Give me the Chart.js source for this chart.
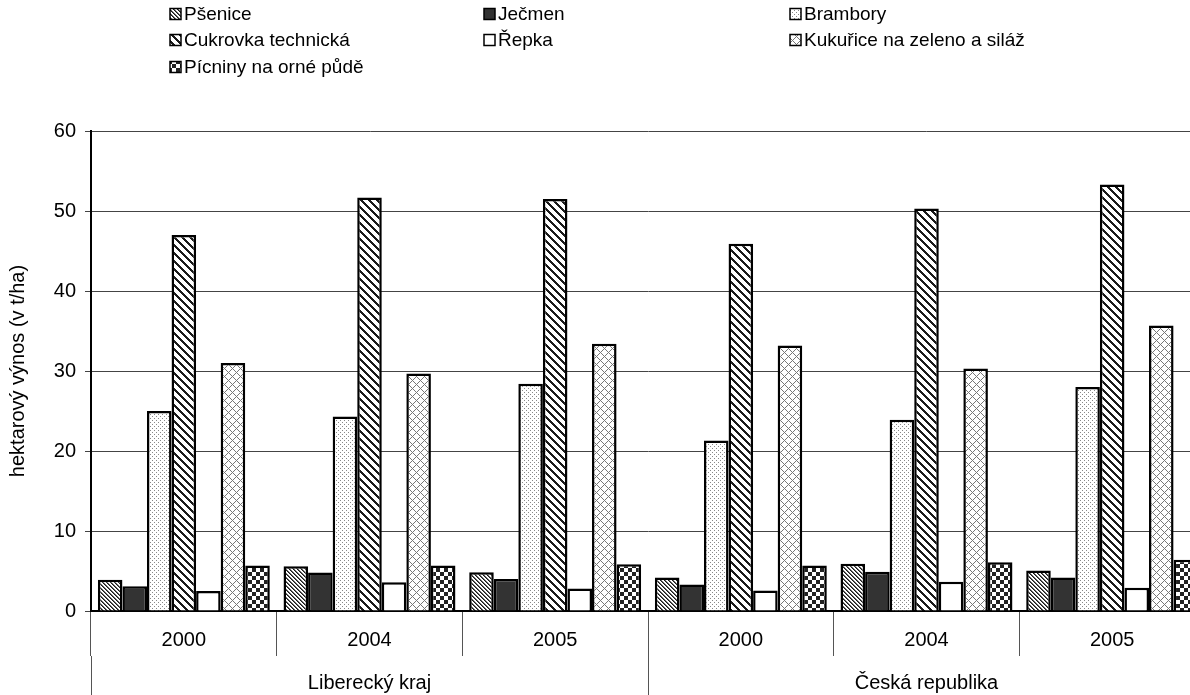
<!DOCTYPE html>
<html>
<head>
<meta charset="utf-8">
<script src="https://cdn.jsdelivr.net/npm/chart.js@4"></script>
<style>
  html, body { margin: 0; padding: 0; background: #fff; }
  #wrap { width: 1190px; height: 695px; overflow: hidden; }
</style>
</head>
<body>
<div id="wrap"><canvas id="yieldChart" width="1205" height="695"></canvas></div>
<script>
// Data
const years = ['2000', '2004', '2005', '2000', '2004', '2005'];
const regions = ['Liberecký kraj', 'Česká republika'];
const seriesNames = ['Pšenice', 'Ječmen', 'Brambory', 'Cukrovka technická', 'Řepka', 'Kukuřice na zeleno a siláž', 'Pícniny na orné půdě'];
const psenice = [3.9, 5.6, 4.85, 4.2, 5.9, 5.05];
const jecmen = [3.1, 4.8, 4.0, 3.3, 4.9, 4.2];
const brambory = [25.0, 24.3, 28.4, 21.3, 23.9, 28.0];
const cukrovka = [47.0, 51.7, 51.5, 45.9, 50.3, 53.3];
const repka = [2.5, 3.6, 2.8, 2.55, 3.65, 2.9];
const kukurice = [31.0, 29.7, 33.4, 33.2, 30.3, 35.7];
const picniny = [5.7, 5.7, 5.85, 5.7, 6.1, 6.4];
const yTicks = [0, 10, 20, 30, 40, 50, 60];

const FONT = '"Liberation Sans", Arial, sans-serif';
const FS = 19;      // legend
const FS_AXIS = 20; // axis labels and title

// Build a fill pattern from a small pixel tile
function makePattern(size, paint) {
  const c = document.createElement('canvas');
  c.width = size; c.height = size;
  const g = c.getContext('2d');
  g.fillStyle = '#fff';
  g.fillRect(0, 0, size, size);
  for (let y = 0; y < size; y++) {
    for (let x = 0; x < size; x++) {
      const col = paint(x, y);
      if (col) { g.fillStyle = col; g.fillRect(x, y, 1, 1); }
    }
  }
  return g.createPattern(c, 'repeat');
}

const mod = (a, n) => ((a % n) + n) % n;

const fills = [
  // Pšenice - fine diagonal stripes
  makePattern(4, (x, y) => mod(x - y, 4) === 0 ? '#1a1a1a' : (mod(x - y, 4) === 1 ? '#666' : null)),
  // Ječmen - solid dark
  '#333333',
  // Brambory - sparse dots
  makePattern(4, (x, y) => ((x === 0 && y === 0) || (x === 2 && y === 2)) ? '#888' : null),
  // Cukrovka - wide diagonal stripes
  makePattern(8, (x, y) => mod(x - y, 8) < 3 ? '#1a1a1a' : null),
  // Řepka - white
  '#ffffff',
  // Kukuřice - diamond lattice
  makePattern(8, (x, y) => (mod(x + y, 8) === 0 || mod(x - y, 8) === 0) ? '#777' : null),
  // Pícniny - checkerboard
  makePattern(8, (x, y) => ((Math.floor(x / 4) + Math.floor(y / 4)) % 2) ? '#222' : null)
];

const seriesData = [psenice, jecmen, brambory, cukrovka, repka, kukurice, picniny];

const datasets = seriesNames.map((name, i) => ({
  label: name,
  data: seriesData[i],
  backgroundColor: fills[i],
  borderColor: '#000',
  borderWidth: 2.5,
  borderSkipped: 'bottom',
  categoryPercentage: 0.926,
  barPercentage: 1.0,
  xAxisID: 'x',
  yAxisID: 'y'
}));

// Legend laid out in three columns, like the original
const legendPos = [
  [170, 14], [484, 14], [790, 14],
  [170, 40], [484, 40], [790, 40],
  [170, 67]
];

const gridLegend = {
  id: 'gridLegend',
  afterDraw(chart) {
    const ctx = chart.ctx;
    ctx.save();
    ctx.font = FS + 'px ' + FONT;
    ctx.textBaseline = 'middle';
    ctx.textAlign = 'left';
    chart.data.datasets.forEach((ds, i) => {
      const [x, y] = legendPos[i];
      ctx.fillStyle = ds.backgroundColor;
      ctx.fillRect(x, y - 5.5, 11, 11);
      ctx.lineWidth = 1.5;
      ctx.strokeStyle = '#000';
      ctx.strokeRect(x, y - 5.5, 11, 11);
      ctx.fillStyle = '#000';
      ctx.fillText(ds.label, x + 14, y + 1);
    });
    ctx.restore();
  }
};

const ctx = document.getElementById('yieldChart').getContext('2d');
const yieldChart = new Chart(ctx, {
  type: 'bar',
  data: { labels: years, datasets: datasets },
  options: {
    responsive: false,
    animation: false,
    devicePixelRatio: 1,
    layout: { padding: { top: 131, left: 0, right: 0, bottom: 0 } },
    plugins: {
      legend: { display: false },
      tooltip: { enabled: false }
    },
    scales: {
      y: {
        min: 0,
        max: 60,
        afterBuildTicks(scale) { scale.ticks = yTicks.map(v => ({ value: v })); },
        afterFit(scale) { scale.width = 91; },
        border: { display: true, color: '#000', width: 2 },
        grid: { color: '#444', lineWidth: 1, drawTicks: true, tickLength: 6 },
        ticks: { color: '#000', padding: 9, font: { family: FONT, size: FS_AXIS } },
        title: {
          display: true,
          text: 'hektarový výnos (v t/ha)',
          color: '#000',
          font: { family: FONT, size: FS_AXIS },
          padding: { top: 6, bottom: 0 }
        }
      },
      x: {
        position: 'bottom',
        afterFit(scale) { scale.height = 45; },
        border: { display: true, color: '#000', width: 2 },
        grid: { offset: true, drawOnChartArea: false, drawTicks: true, tickLength: 45, color: '#555' },
        ticks: { color: '#000', padding: -28, maxRotation: 0, font: { family: FONT, size: FS_AXIS } }
      },
      x2: {
        type: 'category',
        position: 'bottom',
        labels: regions,
        offset: true,
        afterFit(scale) { scale.height = 39; },
        border: { display: false },
        grid: { offset: true, drawOnChartArea: false, drawTicks: true, tickLength: 39, color: '#555' },
        ticks: { color: '#000', padding: -24, maxRotation: 0, font: { family: FONT, size: FS_AXIS } }
      }
    }
  },
  plugins: [gridLegend]
});
</script>
</body>
</html>
